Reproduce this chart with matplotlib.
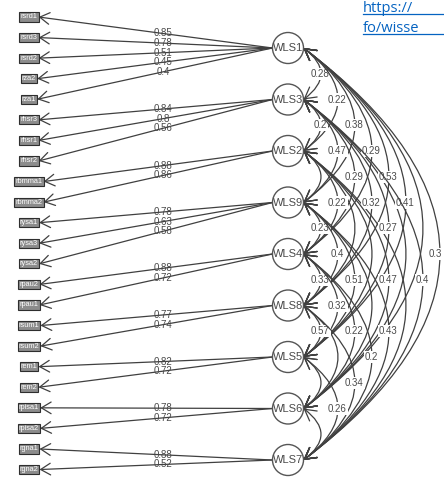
"""Path diagram: 9 first-order factors (WLS*) with their indicators and
factor covariances, drawn in pixel coordinates."""
import matplotlib
matplotlib.use("Agg")
import matplotlib.pyplot as plt
from matplotlib.patches import Circle, FancyArrowPatch, ArrowStyle
from matplotlib.path import Path
from matplotlib.lines import Line2D

plt.rcParams["font.family"] = ["Liberation Sans", "DejaVu Sans"]

# --- data -----------------------------------------------------------------
latents = ["WLS1", "WLS3", "WLS2", "WLS9", "WLS4", "WLS8", "WLS5", "WLS6", "WLS7"]

indicators = ["rsrd1", "rsrd3", "rsrd2", "rza2", "rza1",
              "rhsr3", "rhsr1", "rhsr2",
              "rbmma1", "rbmma2",
              "rysa1", "rysa3", "rysa2",
              "rpau2", "rpau1",
              "rsum1", "rsum2",
              "rem1", "rem2",
              "rpisa1", "rpisa2",
              "rgna1", "rgna2"]
indicator_factor = [0, 0, 0, 0, 0, 1, 1, 1, 2, 2, 3, 3, 3,
                    4, 4, 5, 5, 6, 6, 7, 7, 8, 8]
loadings = [0.85, 0.78, 0.51, 0.45, 0.4,
            0.84, 0.8, 0.56,
            0.88, 0.86,
            0.78, 0.63, 0.58,
            0.88, 0.72,
            0.77, 0.74,
            0.82, 0.72,
            0.78, 0.72,
            0.88, 0.52]

# factor covariances (indices into latents), in drawing order
cov_pairs = [(0, 1), (0, 2), (1, 2), (0, 3), (1, 3), (0, 4), (1, 4), (0, 5),
             (2, 4), (1, 5), (0, 6), (3, 4), (1, 6), (3, 5), (0, 8), (4, 5),
             (3, 6), (2, 7), (1, 8), (4, 6), (5, 6), (4, 7), (3, 8), (4, 8),
             (5, 8), (6, 8)]
cov_values = [0.28, 0.22, 0.2, 0.38, 0.47, 0.29, 0.29, 0.53,
              0.22, 0.32, 0.41, 0.23, 0.27, 0.4, 0.3, 0.33,
              0.51, 0.47, 0.4, 0.32, 0.57, 0.22, 0.43, 0.2,
              0.34, 0.26]
# covariances whose labels are hidden in the picture (arcs only)
cov_pairs_unlabelled = [(2, 3), (6, 7), (7, 8), (5, 7), (2, 5),
                        (2, 6), (3, 7), (1, 7), (2, 8), (0, 7)]

# --- layout (pixels) ------------------------------------------------------
W, H = 444, 494
lat_x, lat_r = 288, 15.5
lat_y0, lat_dy = 48, 51.5
man_x, man_y0, man_dy = 29, 17, 20.57
load_label_x = 163
bulge = 0.66
line_col = "#404040"
text_col = "#4a4a4a"

fig = plt.figure(figsize=(W / 100, H / 100), dpi=100)
ax = fig.add_axes([0, 0, 1, 1])
ax.set_xlim(0, W)
ax.set_ylim(H, 0)
ax.axis("off")

lat_y = [lat_y0 + lat_dy * k for k in range(len(latents))]
man_y = [man_y0 + man_dy * m for m in range(len(indicators))]

# manifest boxes (text with a box), measured afterwards for arrow ends
box_texts = []
for name, y in zip(indicators, man_y):
    t = ax.text(man_x, y, name, ha="center", va="center", fontsize=5.3,
                color="white", zorder=12,
                bbox=dict(boxstyle="square,pad=0.15", fc="#8c8c8c",
                          ec="#2e2e2e", lw=0.8))
    box_texts.append(t)
fig.canvas.draw()
inv = ax.transData.inverted()
box_right = []
for t in box_texts:
    bb = t.get_bbox_patch().get_window_extent()
    box_right.append(inv.transform((bb.x1, bb.y0))[0])

# loadings
load_style = ArrowStyle("->", head_length=0.5, head_width=0.3)
for m, (f, val) in enumerate(zip(indicator_factor, loadings)):
    x0, y0 = lat_x - lat_r, lat_y[f]
    x1, y1 = box_right[m], man_y[m]
    ax.add_patch(FancyArrowPatch((x0, y0), (x1, y1), arrowstyle=load_style,
                                 mutation_scale=14, shrinkA=0, shrinkB=0,
                                 color=line_col, lw=0.9, zorder=3))
    t = (x0 - load_label_x) / (x0 - x1)
    ax.text(load_label_x, y0 + t * (y1 - y0), f"{val:g}", ha="center",
            va="center", fontsize=7, color=text_col, zorder=4)

# covariances: quadratic curves bulging to the right of the factors
cov_style = ArrowStyle("<->", head_length=0.5, head_width=0.28)
xr = lat_x + lat_r


def cov_arc(i, j):
    ya, yb = lat_y[i], lat_y[j]
    ctrl = (xr + bulge * (yb - ya), 0.5 * (ya + yb))
    path = Path([(xr, ya), ctrl, (xr, yb)],
                [Path.MOVETO, Path.CURVE3, Path.CURVE3])
    mid = (0.5 * xr + 0.5 * ctrl[0], 0.5 * (ya + yb))
    return path, mid


z = 5
for i, j in cov_pairs_unlabelled:
    path, _ = cov_arc(i, j)
    ax.add_patch(FancyArrowPatch(path=path, arrowstyle=cov_style,
                                 mutation_scale=16, color=line_col, lw=0.9,
                                 zorder=z))
for (i, j), val in zip(cov_pairs, cov_values):
    z += 2
    path, mid = cov_arc(i, j)
    ax.add_patch(FancyArrowPatch(path=path, arrowstyle=cov_style,
                                 mutation_scale=16, color=line_col, lw=0.9,
                                 zorder=z))
    # keep the outermost label inside the canvas
    ax.text(min(mid[0], W - 9), mid[1], f"{val:g}", ha="center", va="center",
            fontsize=7, color=text_col, zorder=z + 1,
            bbox=dict(boxstyle="square,pad=0.12", fc="white", ec="none"))

# latent circles
for name, y in zip(latents, lat_y):
    ax.add_patch(Circle((lat_x, y), lat_r, fc="white", ec="#555555", lw=1.0,
                        zorder=200))
    ax.text(lat_x, y, name, ha="center", va="center", fontsize=8,
            color=text_col, zorder=201)

# fragment of a hyperlink visible in the screenshot corner
url_col = "#0563C1"
link_texts = [ax.text(363, 8, "https://", ha="left", va="center",
                      fontsize=10.5, color=url_col, family="Open Sans",
                      zorder=300),
              ax.text(363, 28, "fo/wisse", ha="left", va="center",
                      fontsize=10.5, color=url_col, family="Open Sans",
                      zorder=300)]
fig.canvas.draw()
for t in link_texts:
    bb = t.get_window_extent()
    fig.add_artist(Line2D([bb.x0 / W, 1.0], [(bb.y0 + 1) / H] * 2,
                          transform=fig.transFigure, color=url_col, lw=0.9))

fig.savefig("out.png", dpi=100)
